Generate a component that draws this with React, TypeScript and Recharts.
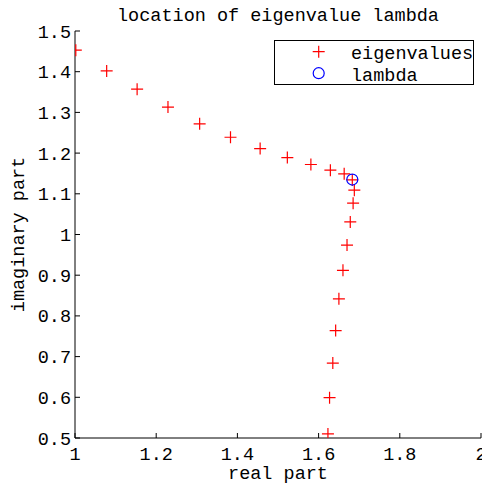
import React from 'react';
import { ScatterChart, Scatter, XAxis, YAxis, Legend } from 'recharts';

const eigReal = [1.002, 1.078, 1.153, 1.229, 1.307, 1.383, 1.456, 1.523, 1.581, 1.629, 1.663, 1.683, 1.688, 1.685, 1.678, 1.670, 1.660, 1.650, 1.642, 1.635, 1.627, 1.623];
const eigImag = [1.453, 1.402, 1.357, 1.313, 1.272, 1.239, 1.211, 1.189, 1.172, 1.158, 1.149, 1.134, 1.109, 1.077, 1.031, 0.974, 0.912, 0.842, 0.764, 0.684, 0.599, 0.510];
const lambdaReal = [1.683];
const lambdaImag = [1.135];
const xTicks = [1, 1.2, 1.4, 1.6, 1.8, 2];
const yTicks = [0.5, 0.6, 0.7, 0.8, 0.9, 1, 1.1, 1.2, 1.3, 1.4, 1.5];
const seriesNames = ['eigenvalues', 'lambda'];
const titleText = 'location of eigenvalue lambda';
const xLabel = 'real part';
const yLabel = 'imaginary part';

const eigData = eigReal.map((x, i) => ({ x, y: eigImag[i] }));
const lambdaData = lambdaReal.map((x, i) => ({ x, y: lambdaImag[i] }));

const FONT = '"Liberation Mono", "DejaVu Sans Mono", monospace';
const FS = 18.5;
const RED = '#ff0000';
const BLUE = '#0000ff';

const PlusShape = (props: any) => {
  const { cx, cy } = props;
  return (
    <path
      d={`M${cx - 6},${cy}H${cx + 6}M${cx},${cy - 6}V${cy + 6}`}
      stroke={RED}
      strokeWidth={1.2}
      fill="none"
    />
  );
};

const CircleShape = (props: any) => {
  const { cx, cy } = props;
  return <circle cx={cx} cy={cy} r={5.5} stroke={BLUE} strokeWidth={1.2} fill="none" />;
};

const LegendBox = () => (
  <div
    style={{
      width: 200,
      height: 45,
      boxSizing: 'border-box',
      border: '1px solid #000',
      background: '#fff',
    }}
  >
    <svg width={198} height={43} style={{ display: 'block' }}>
      <path d="M37.7,10.7H49.7M43.7,4.7V16.7" stroke={RED} strokeWidth={1.2} fill="none" />
      <circle cx={43.7} cy={32.2} r={5.5} stroke={BLUE} strokeWidth={1.2} fill="none" />
      <text x={76} y={18} fontFamily={FONT} fontSize={FS} fill="#000">
        {seriesNames[0]}
      </text>
      <text x={76} y={39.5} fontFamily={FONT} fontSize={FS} fill="#000">
        {seriesNames[1]}
      </text>
    </svg>
  </div>
);

const tickStyle = { fill: '#000', fontSize: FS, fontFamily: FONT };

export default function App() {
  return (
    <div style={{ position: 'absolute', left: 0, top: 0, width: 482, height: 485, background: '#fff' }}>
      <svg width={482} height={30} style={{ position: 'absolute', left: 0, top: 0, display: 'block' }}>
        <text x={278} y={21} textAnchor="middle" fontFamily={FONT} fontSize={FS} fill="#000">
          {titleText}
        </text>
      </svg>
      <ScatterChart width={482} height={485} margin={{ top: 31, right: 1, bottom: 0, left: 0 }}>
        <XAxis
          xAxisId={0}
          dataKey="x"
          type="number"
          domain={[1, 2]}
          ticks={xTicks}
          interval={0}
          allowDataOverflow
          height={47}
          tickSize={-5}
          tickMargin={14}
          axisLine={{ stroke: '#000' }}
          tickLine={{ stroke: '#000' }}
          tick={tickStyle}
          label={{ value: xLabel, position: 'insideBottom', offset: 6, fill: '#000', fontSize: FS, fontFamily: FONT }}
        />
        <XAxis
          xAxisId="top"
          orientation="top"
          type="number"
          domain={[1, 2]}
          ticks={xTicks}
          interval={0}
          allowDataOverflow
          height={0}
          tickSize={-5}
          axisLine={{ stroke: '#000' }}
          tickLine={{ stroke: '#000' }}
          tick={false}
        />
        <YAxis
          yAxisId={0}
          dataKey="y"
          type="number"
          domain={[0.5, 1.5]}
          ticks={yTicks}
          interval={0}
          allowDataOverflow
          width={75}
          tickSize={-5}
          tickMargin={9}
          axisLine={{ stroke: '#000' }}
          tickLine={{ stroke: '#000' }}
          tick={tickStyle}
          label={{
            value: yLabel,
            angle: -90,
            position: 'insideLeft',
            offset: 17,
            fill: '#000',
            fontSize: FS,
            fontFamily: FONT,
            style: { textAnchor: 'middle' },
          }}
        />
        <YAxis
          yAxisId="right"
          orientation="right"
          type="number"
          domain={[0.5, 1.5]}
          ticks={yTicks}
          interval={0}
          allowDataOverflow
          width={0}
          tickSize={-5}
          axisLine={{ stroke: '#000' }}
          tickLine={{ stroke: '#000' }}
          tick={false}
        />
        <Legend
          layout="vertical"
          align="center"
          verticalAlign="middle"
          content={() => <LegendBox />}
          wrapperStyle={{ left: 274, top: 40, width: 200, height: 45 }}
        />
        <Scatter name={seriesNames[0]} data={eigData} shape={PlusShape} isAnimationActive={false} />
        <Scatter name={seriesNames[1]} data={lambdaData} shape={CircleShape} isAnimationActive={false} />
      </ScatterChart>
    </div>
  );
}
